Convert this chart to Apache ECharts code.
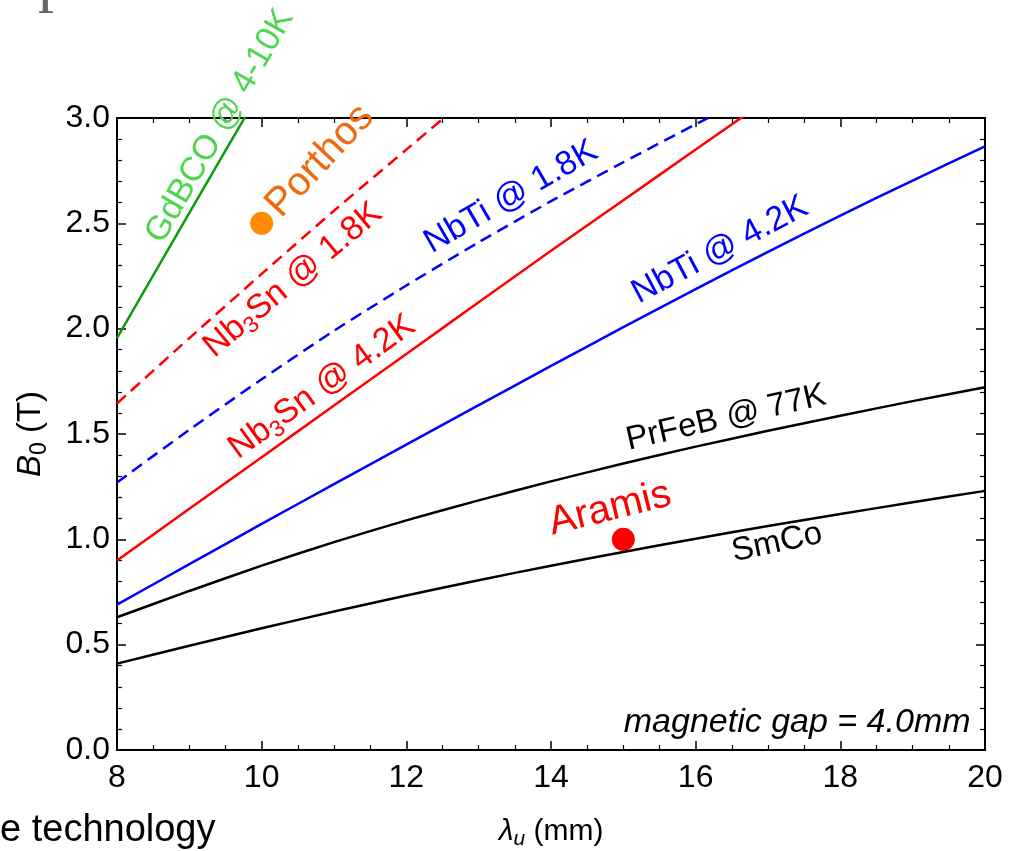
<!DOCTYPE html>
<html><head><meta charset="utf-8">
<script src="https://cdn.jsdelivr.net/npm/echarts@6/dist/echarts.min.js"></script>
<style>html,body{margin:0;padding:0;background:#fff;}#c{width:1018px;height:851px;}</style>
</head><body><div id="c"></div>
<script>
// ---- data ----
const lambdaU   = [8, 9, 10, 11, 12, 13, 14, 15, 16, 17, 18, 19, 20];      // mm
const smCo      = [0.41, 0.495, 0.578, 0.657, 0.733, 0.806, 0.875, 0.94, 1.003, 1.063, 1.12, 1.176, 1.23];
const prFeB77K  = [0.63, 0.755, 0.875, 0.987, 1.09, 1.185, 1.275, 1.36, 1.44, 1.515, 1.587, 1.656, 1.722];
const nbTi42K   = [0.69, 0.882, 1.073, 1.262, 1.45, 1.637, 1.823, 2.007, 2.188, 2.365, 2.537, 2.703, 2.865];
const nb3Sn42K  = [0.90, 1.145, 1.39, 1.635, 1.88, 2.125, 2.37, 2.61, 2.85, 3.09];
const nbTi18K   = [1.27, 1.52, 1.76, 1.99, 2.205, 2.41, 2.605, 2.79, 2.97, 3.145];
const nb3Sn18K  = [1.645, 1.955, 2.26, 2.56, 2.85, 3.14];
const gdBCO     = [1.955, 2.55, 3.14];
const undulatorNames = ['Porthos', 'Aramis'];
const undulatorX = [10, 15];
const undulatorY = [2.5, 1.0];
// curve annotations (text, anchor in data coords, angle)
const noteText  = ['{g|GdBCO @ 4-10K}', '{r|Nb}{rs|3}{r|Sn @ 1.8K}', '{r|Nb}{rs|3}{r|Sn @ 4.2K}',
                   '{b|NbTi @ 1.8K}', '{b|NbTi @ 4.2K}', '{k|PrFeB @ 77K}', '{k|SmCo}',
                   '{o|Porthos}', '{ra|Aramis}'];
const noteX     = [9.424, 10.433, 10.834, 13.447, 16.337, 16.42, 17.125, 10.807, 14.816];
const noteY     = [2.962, 2.231, 1.723, 2.625, 2.373, 1.576, 0.983, 2.796, 1.144];
const noteAngle = [60, 40, 36, 30, 28, 13, 12, 47, 14];
const gapNote   = 'magnetic gap = 4.0mm';
const gapNoteAt = [19.8, 0.13];

const pairs = (ys) => ys.map((y, i) => [lambdaU[i], y]);
const FONT = '"Liberation Sans", Arial, sans-serif';
const chart = echarts.init(document.getElementById('c'), null, {renderer: 'canvas'});

const frameAxis = (extra) => Object.assign({
  type: 'value',
  axisLine: {show: true, onZero: false, lineStyle: {color: '#000', width: 2}},
  axisTick: {show: true, inside: true, length: 9, lineStyle: {color: '#000', width: 1.5}},
  minorTick: {show: true, length: 5, lineStyle: {color: '#000', width: 1.2}},
  splitLine: {show: false}
}, extra);

const richSet = {
  g:  {color: '#4fd64f', fontSize: 34, fontFamily: FONT, lineHeight: 40},
  r:  {color: '#ff0000', fontSize: 34, fontFamily: FONT, lineHeight: 40},
  rs: {color: '#ff0000', fontSize: 23, fontFamily: FONT, lineHeight: 22, verticalAlign: 'bottom'},
  b:  {color: '#0000ff', fontSize: 34, fontFamily: FONT, lineHeight: 40},
  k:  {color: '#000000', fontSize: 33, fontFamily: FONT, lineHeight: 40},
  o:  {color: '#f0690f', fontSize: 40, fontFamily: FONT, lineHeight: 46},
  ra: {color: '#ff0000', fontSize: 40, fontFamily: FONT, lineHeight: 46}
};

const lineSeries = (name, ys, color, dashed) => ({
  name, type: 'line', data: pairs(ys), showSymbol: false, smooth: 0.2,
  clip: true, silent: true,
  lineStyle: {color, width: 2.5, type: dashed ? [12, 7] : 'solid'}
});

chart.setOption({
  animation: false,
  backgroundColor: '#fff',
  grid: {left: 117, right: 33, top: 118, bottom: 101, containLabel: false, outerBoundsMode: 'none'},
  xAxis: [
    frameAxis({min: 8, max: 20, interval: 2, position: 'bottom',
      minorTick: {show: true, splitNumber: 4, length: 5, lineStyle: {color: '#000', width: 1.2}},
      axisLabel: {color: '#000', fontSize: 32, fontFamily: FONT, margin: 12},
      name: '{i|λ}{s|u}{n| (mm)}', nameLocation: 'middle', nameGap: 64,
      nameTextStyle: {rich: {
        i: {fontSize: 30, fontStyle: 'italic', fontFamily: FONT, color: '#000', lineHeight: 36},
        s: {fontSize: 21, fontStyle: 'italic', fontFamily: FONT, color: '#000', lineHeight: 20, verticalAlign: 'bottom'},
        n: {fontSize: 30, fontFamily: FONT, color: '#000', lineHeight: 36}}}}),
    frameAxis({min: 8, max: 20, interval: 2, position: 'top',
      minorTick: {show: true, splitNumber: 4, length: 5, lineStyle: {color: '#000', width: 1.2}},
      axisLabel: {show: false}})
  ],
  yAxis: [
    frameAxis({min: 0, max: 3, interval: 0.5, position: 'left',
      minorTick: {show: true, splitNumber: 5, length: 5, lineStyle: {color: '#000', width: 1.2}},
      axisLabel: {color: '#000', fontSize: 32, fontFamily: FONT, margin: 7,
        formatter: (v) => v.toFixed(1)},
      name: '{i|B}{s|0}{n| (T)}', nameLocation: 'middle', nameGap: 66, nameRotate: 90,
      nameTextStyle: {rich: {
        i: {fontSize: 33, fontStyle: 'italic', fontFamily: FONT, color: '#000', lineHeight: 40},
        s: {fontSize: 23, fontFamily: FONT, color: '#000', lineHeight: 22, verticalAlign: 'bottom'},
        n: {fontSize: 33, fontFamily: FONT, color: '#000', lineHeight: 40}}}}),
    frameAxis({min: 0, max: 3, interval: 0.5, position: 'right',
      minorTick: {show: true, splitNumber: 5, length: 5, lineStyle: {color: '#000', width: 1.2}},
      axisLabel: {show: false}})
  ],
  series: [
    lineSeries('GdBCO @ 4-10K', gdBCO, '#0a9e0a', false),
    lineSeries('Nb3Sn @ 1.8K', nb3Sn18K, '#ff0000', true),
    lineSeries('NbTi @ 1.8K', nbTi18K, '#0000ff', true),
    lineSeries('Nb3Sn @ 4.2K', nb3Sn42K, '#ff0000', false),
    lineSeries('NbTi @ 4.2K', nbTi42K, '#0000ff', false),
    lineSeries('PrFeB @ 77K', prFeB77K, '#000000', false),
    lineSeries('SmCo', smCo, '#000000', false),
    {
      name: 'undulators', type: 'scatter', silent: true, symbolSize: 23,
      itemStyle: {opacity: 1},
      data: undulatorNames.map((n, i) => ({name: n, value: [undulatorX[i], undulatorY[i]],
        itemStyle: {color: i === 0 ? '#ff8c00' : '#ff0000', opacity: 1}}))
    },
    {
      name: 'notes', type: 'scatter', silent: true, symbolSize: 0, clip: false,
      itemStyle: {opacity: 1},
      data: noteText.map((t, i) => ({value: [noteX[i], noteY[i]],
        label: {show: true, position: 'inside', formatter: t, rotate: noteAngle[i], opacity: 1,
          align: 'center', verticalAlign: 'middle', rich: richSet}}))
    },
    {
      name: 'gap', type: 'scatter', silent: true, symbolSize: 0, clip: false,
      itemStyle: {opacity: 1},
      data: [{value: gapNoteAt, label: {show: true, position: 'inside', formatter: gapNote,
        align: 'right', verticalAlign: 'middle', color: '#000', fontSize: 34, opacity: 1,
        fontStyle: 'italic', fontFamily: FONT}}]
    }
  ],
  graphic: [
    {type: 'text', left: 0, top: 812, style: {text: 'e technology', fill: '#000', fontSize: 38, fontFamily: FONT}},
    {type: 'text', left: 38, top: -50, style: {text: 'p', fill: '#666', fontSize: 64, fontFamily: '"Liberation Serif", serif'}}
  ]
});
</script></body></html>
